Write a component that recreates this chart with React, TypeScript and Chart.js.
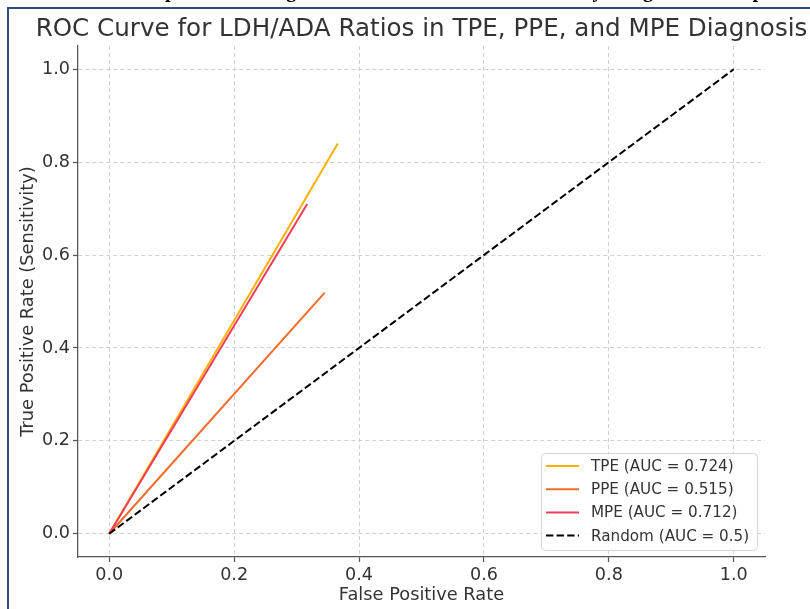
import React, { useEffect, useRef } from 'react';
import { Chart, registerables } from 'chart.js';

Chart.register(...registerables);

// ---- data ----
const seriesLabels = ['TPE (AUC = 0.724)', 'PPE (AUC = 0.515)', 'MPE (AUC = 0.712)', 'Random (AUC = 0.5)'];
const seriesColors = ['#FFB000', '#F26B2A', '#F03C5A', '#000000'];
const tpeFpr = [0, 0.366];
const tpeTpr = [0, 0.84];
const ppeFpr = [0, 0.345];
const ppeTpr = [0, 0.519];
const mpeFpr = [0, 0.317];
const mpeTpr = [0, 0.71];
const randomFpr = [0, 1];
const randomTpr = [0, 1];
const tickValues = [0, 0.2, 0.4, 0.6, 0.8, 1.0];
const chartTitle = 'ROC Curve for LDH/ADA Ratios in TPE, PPE, and MPE Diagnosis';
const xTitle = 'False Positive Rate';
const yTitle = 'True Positive Rate (Sensitivity)';
const captionText = 'Comparison of Diagnostic Value of LDH/ADA Ratios by using Receiver Operating Characteristic Curves';

const FAMILY = "'DejaVu Sans', sans-serif";

function toPoints(xs: number[], ys: number[]) {
  return xs.map((x, i) => ({ x, y: ys[i] }));
}

const overlayPlugin = {
  id: 'overlayTitleLegend',
  afterDraw(chart: any) {
    const ctx = chart.ctx;
    const a = chart.chartArea;
    ctx.save();
    // title
    ctx.font = `24.6px ${FAMILY}`;
    ctx.fillStyle = '#333333';
    ctx.textAlign = 'center';
    ctx.textBaseline = 'alphabetic';
    ctx.fillText(chartTitle, (a.left + a.right) / 2, 36);

    // legend
    const bw = 216;
    const bh = 97;
    const bx = a.right - 8 - bw;
    const by = a.bottom - 7 - bh;
    ctx.beginPath();
    ctx.roundRect(bx + 0.5, by + 0.5, bw, bh, 4);
    ctx.fillStyle = 'rgba(255,255,255,0.85)';
    ctx.fill();
    ctx.strokeStyle = '#d6d6d6';
    ctx.lineWidth = 1;
    ctx.stroke();

    ctx.font = `15.2px ${FAMILY}`;
    ctx.textAlign = 'left';
    ctx.textBaseline = 'middle';
    chart.data.datasets.forEach((ds: any, i: number) => {
      const y = by + 13 + i * 23.2;
      ctx.beginPath();
      ctx.setLineDash(ds.borderDash || []);
      ctx.strokeStyle = ds.borderColor;
      ctx.lineWidth = 2;
      ctx.moveTo(bx + 5, y);
      ctx.lineTo(bx + 38, y);
      ctx.stroke();
      ctx.setLineDash([]);
      ctx.fillStyle = '#333333';
      ctx.fillText(ds.label, bx + 50, y + 1);
    });
    ctx.restore();
  },
};

function axisOptions(isX: boolean) {
  return {
    type: 'linear' as const,
    min: -0.05,
    max: 1.05,
    afterBuildTicks: (s: any) => {
      s.ticks = tickValues.map((v) => ({ value: v }));
    },
    afterFit: (s: any) => {
      if (isX) s.height = 52;
      else s.width = 78;
    },
    ticks: {
      callback: (v: any) => Number(v).toFixed(1),
      font: { family: FAMILY, size: 17.6 },
      color: '#333333',
      padding: 3,
      maxRotation: 0,
      autoSkip: false,
    },
    grid: {
      color: '#d0d0d0',
      lineWidth: 1,
      tickLength: 5,
      tickColor: '#555555',
      tickWidth: 1.25,
      tickBorderDash: [],
      drawTicks: true,
    },
    border: { display: true, color: '#555555', width: 1.25, dash: [4, 3] },
    title: {
      display: true,
      text: isX ? xTitle : yTitle,
      font: { family: FAMILY, size: 17.8 },
      color: '#333333',
      padding: isX ? { top: 0, bottom: 3.3 } : { top: 17.3, bottom: 0 },
    },
  };
}

export default function App() {
  const ref = useRef<HTMLCanvasElement | null>(null);

  useEffect(() => {
    if (!ref.current) return;
    const fprs = [tpeFpr, ppeFpr, mpeFpr, randomFpr];
    const tprs = [tpeTpr, ppeTpr, mpeTpr, randomTpr];
    const chart = new Chart(ref.current, {
      type: 'scatter',
      data: {
        datasets: seriesLabels.map((label, i) => ({
          label,
          data: toPoints(fprs[i], tprs[i]),
          showLine: true,
          borderColor: seriesColors[i],
          backgroundColor: seriesColors[i],
          borderWidth: 2,
          borderDash: i === 3 ? [7.4, 3.2] : [],
          pointRadius: 0,
          pointHoverRadius: 0,
          order: 4 - i,
        })),
      },
      options: {
        animation: false,
        responsive: false,
        devicePixelRatio: 1,
        layout: { padding: { top: 46, right: 45, bottom: 0, left: 0 } },
        plugins: {
          legend: { display: false },
          tooltip: { enabled: false },
          title: { display: false },
        },
        scales: {
          x: axisOptions(true),
          y: axisOptions(false),
        },
      },
      plugins: [overlayPlugin],
    });
    return () => chart.destroy();
  }, []);

  return (
    <div
      style={{
        position: 'fixed',
        left: 0,
        top: 0,
        width: 810,
        height: 609,
        overflow: 'hidden',
        background: '#ffffff',
      }}
    >
      <canvas ref={ref} width={810} height={609} style={{ position: 'absolute', left: 0, top: 0 }} />
      <div
        style={{
          position: 'absolute',
          left: 124,
          top: -20,
          fontFamily: "'Liberation Serif', 'Times New Roman', serif",
          fontWeight: 'bold',
          fontSize: 20,
          lineHeight: '20px',
          whiteSpace: 'nowrap',
          color: '#000',
        }}
      >
        {captionText}
      </div>
      <div
        style={{
          position: 'absolute',
          left: 7,
          top: 7,
          width: 900,
          height: 700,
          borderLeft: '2px solid #2c4a7c',
          borderTop: '2px solid #2c4a7c',
        }}
      />
    </div>
  );
}
